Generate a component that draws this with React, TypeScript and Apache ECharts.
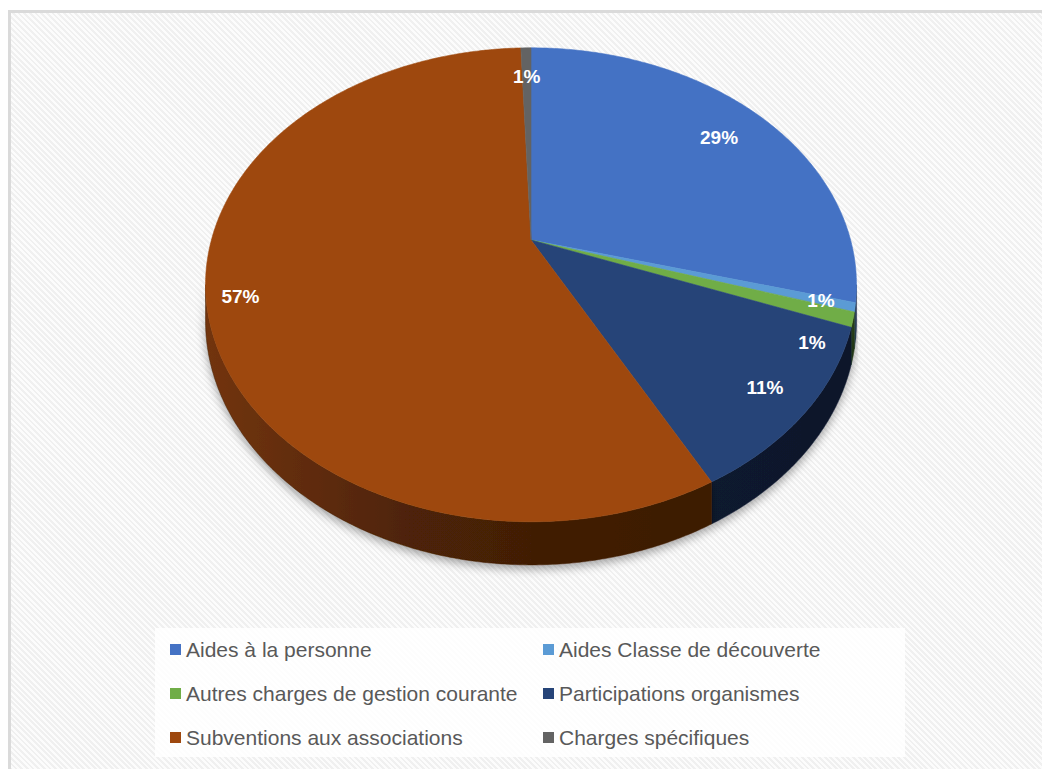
import React, { useEffect, useRef } from "react";
import * as echarts from "echarts";

const categories = [
  "Aides à la personne",
  "Aides Classe de découverte",
  "Autres charges de gestion courante",
  "Participations organismes",
  "Subventions aux associations",
  "Charges spécifiques",
];
const values = [29.2, 0.6, 1.0, 11.4, 57.2, 0.6];
const colors = ["#4472C4", "#5B9BD5", "#70AD47", "#264478", "#9E480E", "#636363"];
const labelRadius = [0.81, 0.9, 0.91, 0.87, 0.9, 0.83];
const labelAngleShift = [0, 0, 8, 0, 0, 0];

// perspective geometry of the 3D pie
const CX = 531;
const CY = 240;
const SX = 319.6;
const SY = 228.5;
const Q = -0.189;
const DEPTH = 35;
const SIL1 = Math.acos(Q); // near-side silhouette angles
const SIL2 = 2 * Math.PI - Math.acos(Q);

function project(theta: number, r: number, drop = 0): number[] {
  const u = r * Math.sin(theta);
  const v = -r * Math.cos(theta);
  const w = 1 + Q * v;
  return [CX + (SX * u) / w, CY + (SY * v) / w + drop / w];
}

function shade(hex: string, f: number): string {
  const n = parseInt(hex.slice(1), 16);
  const r = Math.round(((n >> 16) & 255) * f);
  const g = Math.round(((n >> 8) & 255) * f);
  const b = Math.round((n & 255) * f);
  return `rgb(${r},${g},${b})`;
}

const total = values.reduce((a, b) => a + b, 0);
const starts: number[] = [];
{
  let acc = 0;
  for (const v of values) {
    starts.push((acc / total) * 2 * Math.PI);
    acc += v;
  }
}

function arcPoints(a: number, b: number, drop: number): number[][] {
  const pts: number[][] = [];
  const n = Math.max(2, Math.ceil((b - a) / (Math.PI / 360)));
  for (let k = 0; k <= n; k++) {
    pts.push(project(a + ((b - a) * k) / n, 1, drop));
  }
  return pts;
}

export default function App() {
  const ref = useRef<HTMLDivElement>(null);
  useEffect(() => {
    if (!ref.current) return;
    const chart = echarts.init(ref.current, undefined, { renderer: "svg" });
    const seriesData = values.map((v, i) => ({ value: v, name: categories[i] }));

    const sideItem = (params: any, api: any) => {
      const i = params.dataIndex;
      const a = starts[i];
      const b = a + (api.value(0) / total) * 2 * Math.PI;
      const s = Math.max(a, SIL1);
      const e = Math.min(b, SIL2);
      if (e <= s) return { type: "group", children: [] };
      const top = arcPoints(s, e, 0);
      const bottom = arcPoints(s, e, DEPTH).reverse();
      const base = colors[i];
      return {
        type: "polygon",
        shape: { points: top.concat(bottom) },
        style: {
          fill: {
            type: "linear",
            x: 207,
            y: 0,
            x2: 858,
            y2: 0,
            global: true,
            colorStops: [
              { offset: 0, color: shade(base, 0.72) },
              { offset: 0.3, color: shade(base, 0.5) },
              { offset: 0.5, color: shade(base, 0.41) },
              { offset: 1, color: shade(base, 0.36) },
            ],
          },
          stroke: shade(base, 0.4),
          lineWidth: 0.5,
          shadowBlur: 10,
          shadowColor: "rgba(0,0,0,0.35)",
          shadowOffsetY: 4,
        },
      };
    };

    const topItem = (params: any, api: any) => {
      const i = params.dataIndex;
      const a = starts[i];
      const frac = api.value(0) / total;
      const b = a + frac * 2 * Math.PI;
      const pts = [[CX, CY]].concat(arcPoints(a, b, 0));
      const mid = (a + b) / 2 + (labelAngleShift[i] * Math.PI) / 180;
      const lp = project(mid, labelRadius[i]);
      return {
        type: "group",
        children: [
          {
            type: "polygon",
            shape: { points: pts },
            style: { fill: colors[i], stroke: colors[i], lineWidth: 0.6 },
          },
          {
            type: "text",
            x: lp[0],
            y: lp[1],
            z2: 10,
            style: {
              text: Math.round(frac * 100) + "%",
              fill: "#ffffff",
              fontSize: 19,
              fontWeight: "bold",
              fontFamily: '"Liberation Sans", Arial, sans-serif',
              align: "center",
              verticalAlign: "middle",
            },
          },
        ],
      };
    };

    chart.setOption({
      animation: false,
      graphic: [
        {
          type: "rect",
          z: 0,
          silent: true,
          shape: { x: 155, y: 628, width: 750, height: 129 },
          style: { fill: "rgba(255,255,255,0.85)" },
        },
      ],
      legend: {
        data: categories,
        left: 170,
        top: 630,
        width: 745,
        padding: 0,
        orient: "horizontal",
        icon: "rect",
        itemWidth: 11,
        itemHeight: 11,
        itemGap: 5,
        selectedMode: false,
        textStyle: {
          color: "#595959",
          fontSize: 21,
          fontFamily: '"Liberation Sans", Arial, sans-serif',
          width: 352,
          lineHeight: 39,
        },
      },
      series: [
        {
          type: "pie",
          name: "legend",
          silent: true,
          center: [-400, -400],
          radius: 1,
          label: { show: false },
          labelLine: { show: false },
          data: values.map((v, i) => ({ name: categories[i], value: v, itemStyle: { color: colors[i] } })),
        },
        {
          type: "custom",
          name: "sides",
          coordinateSystem: "none",
          z: 2,
          silent: true,
          renderItem: sideItem,
          data: seriesData,
        },
        {
          type: "custom",
          name: "tops",
          coordinateSystem: "none",
          z: 3,
          silent: true,
          renderItem: topItem,
          data: seriesData,
        },
      ],
    });
    return () => chart.dispose();
  }, []);

  return (
    <div style={{ position: "fixed", left: 0, top: 0, width: 1042, height: 769, overflow: "hidden", background: "#ffffff" }}>
      <div
        style={{
          position: "absolute",
          left: 8,
          top: 10,
          width: 1100,
          height: 800,
          borderLeft: "3px solid #dadada",
          borderTop: "3px solid #dadada",
          background:
            "repeating-linear-gradient(45deg, #fcfcfc 0px, #fcfcfc 2px, #f0f0f0 2px, #f0f0f0 4px)",
        }}
      />
      <div ref={ref} style={{ position: "absolute", left: 0, top: 0, width: 1042, height: 769 }} />
    </div>
  );
}
